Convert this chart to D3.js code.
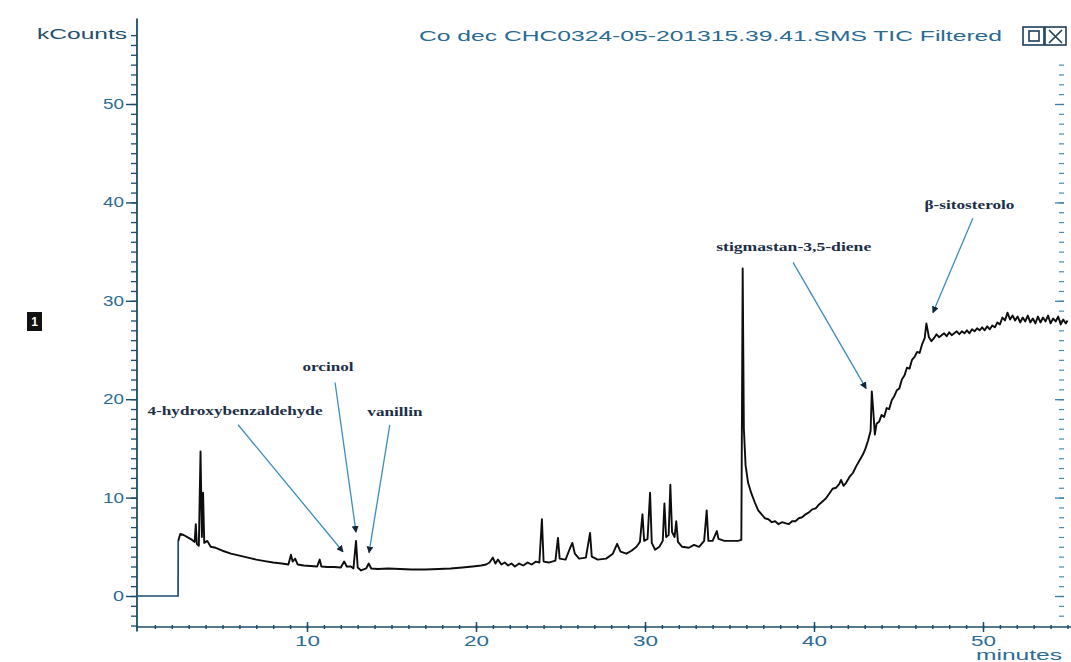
<!DOCTYPE html>
<html>
<head>
<meta charset="utf-8">
<script src="https://cdn.jsdelivr.net/npm/d3@7"></script>
<style>
  body { margin: 0; background: #ffffff; }
  svg { display: block; }
</style>
</head>
<body>
<svg id="chart" width="1071" height="662"></svg>
<script>
// Total ion chromatogram: retention time (minutes) and signal (kCounts)
const minutes = [
  0.0, 2.37, 2.38, 2.5, 2.7, 3.0, 3.2, 3.35, 3.42, 3.48, 3.6, 3.7, 3.78, 3.85, 3.92,
  4.1, 4.3, 4.6, 5.0, 5.5, 6.0, 6.5, 7.0, 7.5, 8.0, 8.5, 8.9, 9.05, 9.15, 9.3, 9.45,
  9.8, 10.2, 10.6, 10.75, 10.85, 11.2, 11.6, 12.0, 12.2, 12.35, 12.6, 12.75, 12.9, 13.0,
  13.2, 13.5, 13.65, 13.8, 14.2, 14.8, 15.5, 16.2, 17.0, 17.8, 18.5, 19.2, 19.8, 20.3,
  20.6, 20.8, 21.0, 21.15, 21.3, 21.5, 21.7, 21.9, 22.1, 22.3, 22.55, 22.8, 23.05, 23.3,
  23.55, 23.75, 23.9, 24.0, 24.3, 24.7,
  24.85, 24.95, 25.3, 25.55, 25.7, 25.85, 26.1, 26.5, 26.75, 26.85, 27.2, 27.7, 28.1,
  28.35, 28.55, 28.9, 29.2, 29.5, 29.7, 29.85, 29.95, 30.15, 30.3, 30.4, 30.6, 30.85,
  31.05, 31.15, 31.25, 31.4, 31.5, 31.6, 31.75, 31.85, 31.95, 32.2, 32.6, 32.9, 33.2,
  33.5, 33.65, 33.75, 34.0, 34.25, 34.35, 34.7, 35.1, 35.5, 35.7, 35.78, 35.85, 35.95,
  36.1, 36.3, 36.5, 36.7, 36.9, 37.1, 37.3, 37.5, 37.7, 37.9, 38.1, 38.3, 38.5, 38.7,
  38.9, 39.1, 39.3, 39.5, 39.7, 39.9, 40.1, 40.3, 40.5, 40.7, 40.9, 41.1, 41.3, 41.5,
  41.6, 41.75, 41.9, 42.1, 42.3, 42.5, 42.7, 42.9, 43.05, 43.2, 43.35, 43.42, 43.5, 43.6,
  43.7, 43.85, 44.0, 44.15, 44.3, 44.45, 44.6, 44.75, 44.9, 45.05, 45.2, 45.35, 45.5,
  45.65, 45.8, 45.95, 46.1, 46.25, 46.4, 46.55, 46.65, 46.8, 46.95, 47.1, 47.25, 47.4,
  47.55, 47.7, 47.85, 48.0, 48.15, 48.3, 48.45, 48.6, 48.75, 48.9, 49.05, 49.2, 49.35,
  49.5, 49.65, 49.8, 49.95, 50.1, 50.25, 50.4, 50.55, 50.7, 50.85, 51.0, 51.15, 51.3,
  51.45, 51.6, 51.75, 51.9, 52.05, 52.2, 52.35, 52.5, 52.65, 52.8, 52.95, 53.1, 53.25,
  53.4, 53.55, 53.7, 53.85, 54.0, 54.15, 54.3, 54.45, 54.6, 54.75, 54.9, 55.0
];
const kcounts = [
  0.0, 0.0, 5.6, 6.3, 6.2, 5.9, 5.7, 5.5, 7.3, 5.3, 5.1, 14.7, 6.0, 10.5, 5.4,
  5.6, 5.0, 4.9, 4.6, 4.3, 4.1, 3.9, 3.7, 3.55, 3.4, 3.3, 3.2, 4.2, 3.5, 3.8, 3.2,
  3.1, 3.05, 3.0, 3.7, 3.0, 2.95, 2.95, 2.9, 3.5, 3.0, 3.0, 2.8, 5.6, 2.9,
  2.6, 2.8, 3.3, 2.8, 2.75, 2.8, 2.75, 2.7, 2.7, 2.75, 2.8, 2.9, 3.0, 3.1,
  3.2, 3.4, 3.9, 3.3, 3.7, 3.2, 3.4, 3.1, 3.3, 3.0, 3.3, 3.1, 3.4, 3.2,
  3.5, 3.4, 7.8, 3.5, 3.4, 3.6,
  5.9, 3.8, 3.7, 4.8, 5.4, 4.3, 3.8, 3.9, 6.4, 4.0, 3.7, 3.8, 4.3,
  5.3, 4.5, 4.3, 4.6, 5.0, 5.5, 8.3, 5.6, 5.8, 10.5, 5.4, 4.7, 5.0,
  5.6, 9.4, 6.0, 6.2, 11.3, 6.5, 6.0, 7.6, 5.5, 5.0, 4.9, 5.2, 5.0,
  5.6, 8.7, 5.6, 5.6, 6.6, 5.8, 5.6, 5.6, 5.6, 5.7, 33.3, 17.0, 13.3,
  11.5, 10.4, 9.5, 8.7, 8.3, 7.9, 7.8, 7.5, 7.6, 7.3, 7.5, 7.4, 7.3, 7.6,
  7.6, 7.9, 8.0, 8.3, 8.5, 8.8, 8.9, 9.3, 9.6, 9.9, 10.4, 10.9, 11.0, 11.4,
  11.8, 11.2, 11.5, 12.1, 12.5, 13.2, 13.8, 14.4, 15.0, 15.8, 16.8, 20.8, 19.0, 16.4,
  17.5, 17.7, 18.4, 18.2, 19.1, 19.0, 19.9, 20.3, 20.9, 21.1, 22.0, 22.4, 23.2,
  23.1, 24.0, 24.3, 24.8, 24.7, 25.6, 26.2, 27.7, 26.3, 25.9, 26.2, 26.6, 26.3,
  26.5, 26.7, 26.4, 26.8, 26.5, 26.7, 26.9, 26.6, 26.9, 26.7, 27.0, 26.7, 27.1,
  26.9, 27.2, 27.0, 27.3, 27.0, 27.4, 27.1, 27.5, 27.3, 27.8, 27.6, 28.3, 28.0,
  28.8, 28.1, 28.5, 28.0, 28.4, 27.8, 28.3, 27.9, 28.5, 27.8, 28.2, 27.7, 28.4,
  27.8, 28.3, 27.9, 28.5, 27.7, 28.2, 27.9, 28.4, 27.6, 28.1, 27.7, 28.0
];

// Axis tick labels
const yTickValues = [0, 10, 20, 30, 40, 50];
const xTickValues = [10, 20, 30, 40, 50];

// Identified compounds: marker point and label anchor, in minutes / kCounts
const peakNames   = ["4-hydroxybenzaldehyde", "orcinol", "vanillin", "stigmastan-3,5-diene", "β-sitosterolo"];
const peakTimes   = [12.13, 12.9, 13.67, 43.08, 47.04];
const peakLevels  = [4.5, 6.5, 4.4, 21.1, 28.8];
const labelTimes  = [5.74, 11.24, 15.2, 38.8, 49.2];
const labelLevels = [18.8, 23.3, 18.7, 35.5, 39.7];
const leaderTimes  = [5.92, 11.66, 14.9, 38.76, 49.4];
const leaderLevels = [17.4, 21.7, 17.4, 33.9, 38.4];
const labelWidths = [175, 51, 55, 155, 90];

const svg = d3.select("#chart");
const axisColor = "#1c4c6b";
const textColor = "#2c6b94";

const x = d3.scaleLinear().domain([0, 55]).range([138, 1067.5]);
const y = d3.scaleLinear().domain([0, 50]).range([596, 104]);

// ---- Y axis (left) ----
const yMinor = d3.range(-3, 58);
const gyMinor = svg.append("g").attr("transform", "translate(137,0)")
  .call(d3.axisLeft(y).tickValues(yMinor).tickSize(6).tickFormat(""));
gyMinor.select(".domain").remove();
gyMinor.selectAll("line").attr("stroke", axisColor).attr("stroke-width", 1.3);

const gyMajor = svg.append("g").attr("transform", "translate(137,0)")
  .call(d3.axisLeft(y).tickValues(yTickValues).tickSize(11).tickPadding(2).tickFormat(d3.format("d")));
gyMajor.select(".domain").remove();
gyMajor.selectAll("line").attr("stroke", axisColor).attr("stroke-width", 1.4);
gyMajor.selectAll("text")
  .attr("fill", textColor)
  .style("font-family", "'Liberation Sans', Arial, sans-serif")
  .style("font-size", "14px")
  .attr("textLength", d => d === 0 ? 11 : 21)
  .attr("lengthAdjust", "spacingAndGlyphs");

svg.append("line")
  .attr("x1", 137).attr("x2", 137)
  .attr("y1", y(58.7)).attr("y2", y(-3.6))
  .attr("stroke", axisColor).attr("stroke-width", 1.8);

// ---- Right-hand tick column ----
const gyRight = svg.append("g").attr("transform", "translate(1064,0)")
  .call(d3.axisLeft(y).tickValues(d3.range(-2, 55)).tickSize(5).tickFormat(""));
gyRight.select(".domain").remove();
gyRight.selectAll("line").attr("stroke", "#4a8ab3").attr("stroke-width", 1.2);
const gyRightMajor = svg.append("g").attr("transform", "translate(1064,0)")
  .call(d3.axisLeft(y).tickValues(yTickValues).tickSize(9).tickFormat(""));
gyRightMajor.select(".domain").remove();
gyRightMajor.selectAll("line").attr("stroke", "#3d7fa8").attr("stroke-width", 1.3);

// ---- X axis ----
const xAxisY = 627;
svg.append("line")
  .attr("x1", 137).attr("x2", 1071)
  .attr("y1", xAxisY).attr("y2", xAxisY)
  .attr("stroke", axisColor).attr("stroke-width", 1.6);

const gxMinor = svg.append("g").attr("transform", `translate(0,${xAxisY - 2})`)
  .call(d3.axisBottom(x).tickValues(d3.range(1, 56)).tickSize(4).tickFormat(""));
gxMinor.select(".domain").remove();
gxMinor.selectAll("line").attr("stroke", axisColor).attr("stroke-width", 1.5);

const gxMajor = svg.append("g").attr("transform", `translate(0,${xAxisY - 5})`)
  .call(d3.axisBottom(x).tickValues(xTickValues).tickSize(10).tickPadding(3).tickFormat(d3.format("d")));
gxMajor.select(".domain").remove();
gxMajor.selectAll("line").attr("stroke", axisColor).attr("stroke-width", 1.5);
gxMajor.selectAll("text")
  .attr("fill", textColor)
  .style("font-family", "'Liberation Sans', Arial, sans-serif")
  .style("font-size", "15px")
  .attr("textLength", 25)
  .attr("lengthAdjust", "spacingAndGlyphs");

// ---- Axis titles and header ----
svg.append("text")
  .attr("x", 37).attr("y", 39)
  .attr("fill", "#1f4f6e")
  .style("font-family", "'Liberation Sans', Arial, sans-serif")
  .style("font-size", "14px")
  .attr("textLength", 90).attr("lengthAdjust", "spacingAndGlyphs")
  .text("kCounts");

svg.append("text")
  .attr("x", 976).attr("y", 660)
  .attr("fill", textColor)
  .style("font-family", "'Liberation Sans', Arial, sans-serif")
  .style("font-size", "14px")
  .attr("textLength", 86).attr("lengthAdjust", "spacingAndGlyphs")
  .text("minutes");

svg.append("text")
  .attr("x", 419).attr("y", 41)
  .attr("fill", "#2a6a93")
  .style("font-family", "'Liberation Sans', Arial, sans-serif")
  .style("font-size", "14px")
  .attr("textLength", 583).attr("lengthAdjust", "spacingAndGlyphs")
  .text("Co dec CHC0324-05-201315.39.41.SMS TIC Filtered");

// window buttons at the header's right end
const btn = svg.append("g").attr("stroke", "#1d3f58").attr("fill", "none").attr("stroke-width", 1.6);
btn.append("rect").attr("x", 1023).attr("y", 27).attr("width", 21).attr("height", 18);
btn.append("rect").attr("x", 1029).attr("y", 31).attr("width", 10).attr("height", 10);
btn.append("rect").attr("x", 1045).attr("y", 27).attr("width", 21).attr("height", 18);
btn.append("path").attr("d", "M1049,30 L1062,43 M1062,30 L1049,43");

// trace number badge
svg.append("rect").attr("x", 27).attr("y", 312).attr("width", 15).attr("height", 19).attr("fill", "#111");
svg.append("text")
  .attr("x", 34.5).attr("y", 326)
  .attr("text-anchor", "middle")
  .attr("fill", "#fff")
  .style("font-family", "'Liberation Sans', Arial, sans-serif")
  .style("font-size", "12px").style("font-weight", "bold")
  .text("1");

// ---- Chromatogram trace ----
const trace = minutes.map((t, i) => [t, kcounts[i]]);
const line = d3.line().x(d => x(d[0])).y(d => y(d[1]));
// flat pre-run segment and the step up to the first reading
svg.append("path")
  .datum(trace.slice(0, 3))
  .attr("fill", "none")
  .attr("stroke", "#1c4c6b")
  .attr("stroke-width", 1.7)
  .attr("d", line);
svg.append("path")
  .datum(trace.slice(2))
  .attr("fill", "none")
  .attr("stroke", "#0d0d0d")
  .attr("stroke-width", 1.9)
  .attr("stroke-linejoin", "round")
  .attr("d", line);

// ---- Compound annotations ----
svg.append("defs").append("marker")
  .attr("id", "tip")
  .attr("viewBox", "0 -4 8 8")
  .attr("refX", 7).attr("refY", 0)
  .attr("markerWidth", 7).attr("markerHeight", 7)
  .attr("markerUnits", "userSpaceOnUse")
  .attr("orient", "auto")
  .append("path").attr("d", "M0,-4L8,0L0,4Z").attr("fill", "#10263c");

peakNames.forEach((name, i) => {
  svg.append("line")
    .attr("x1", x(leaderTimes[i])).attr("y1", y(leaderLevels[i]))
    .attr("x2", x(peakTimes[i])).attr("y2", y(peakLevels[i]))
    .attr("stroke", "#3b8dbc").attr("stroke-width", 1.3)
    .attr("marker-end", "url(#tip)");
  svg.append("text")
    .attr("x", x(labelTimes[i])).attr("y", y(labelLevels[i]) + 4)
    .attr("text-anchor", "middle")
    .attr("fill", "#1c2f47")
    .style("font-family", "'Liberation Serif', 'Times New Roman', serif")
    .style("font-size", "12px").style("font-weight", "bold")
    .attr("textLength", labelWidths[i]).attr("lengthAdjust", "spacingAndGlyphs")
    .text(name);
});
</script>
</body>
</html>
